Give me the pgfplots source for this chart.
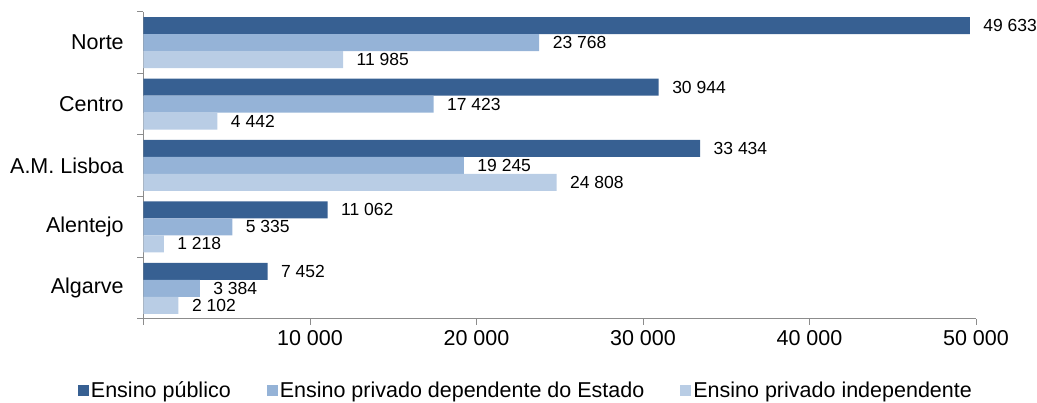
\documentclass[border=0pt]{standalone}
\usepackage{fontspec}
\setmainfont{Liberation Sans}
\usepackage{pgfplots}
\pgfplotsset{compat=1.18}
\definecolor{c1}{HTML}{376092}
\definecolor{c2}{HTML}{95B3D7}
\definecolor{c3}{HTML}{B9CDE5}
\definecolor{axgray}{HTML}{8C8C8C}

\begin{document}
\begin{tikzpicture}[x=1pt,y=1pt]
\useasboundingbox (0,0) rectangle (1037,403);
\begin{axis}[
    at={(143.5pt,84pt)}, anchor=south west,
    scale only axis, width=832.5pt, height=307pt,
    xbar, bar width=17pt,
    xmin=0, xmax=50000, ymin=-0.5, ymax=4.5,
    axis x line*=bottom, axis y line*=left,
    axis line style={axgray, line width=1pt},
    every tick/.style={axgray, line width=1pt},
    tick align=outside,
    scaled x ticks=false,
    xtick={0,10000,20000,30000,40000,50000},
    xticklabels={,10 000,20 000,30 000,40 000,50 000},
    major x tick style={/pgfplots/major tick length=6pt},
    ytick={0,1,2,3,4},
    yticklabels={Algarve,Alentejo,A.M. Lisboa,Centro,Norte},
    major y tick style={draw=none},
    minor ytick={-0.5,0.5,1.5,2.5,3.5,4.5},
    minor tick length=6pt,
    /pgf/number format/assume math mode=true,
    tick label style={font=\fontsize{21.5}{22}\selectfont, black},
    yticklabel style={xshift=-12pt},
    xticklabel style={yshift=-4pt},
    clip=false,
    point meta=explicit symbolic,
    nodes near coords,
    nodes near coords style={font=\fontsize{17.5}{18}\selectfont, black, anchor=west, xshift=10pt},
    legend columns=3,
    legend style={draw=none, at={(-0.079,-0.232)}, anchor=west,
        font=\fontsize{21.5}{22}\selectfont,
        /tikz/every even column/.append style={column sep=34pt},
        inner sep=0pt},
    legend image code/.code={\fill[#1,draw=none] (0pt,-5.5pt) rectangle (11pt,5.5pt);},
]
\addplot[fill=c1, draw=none, bar shift=17pt] coordinates {
    (49633,4) [49 633]
    (30944,3) [30 944]
    (33434,2) [33 434]
    (11062,1) [11 062]
    (7452,0) [7 452]
};
\addplot[fill=c2, draw=none, bar shift=0pt] coordinates {
    (23768,4) [23 768]
    (17423,3) [17 423]
    (19245,2) [19 245]
    (5335,1) [5 335]
    (3384,0) [3 384]
};
\addplot[fill=c3, draw=none, bar shift=-17pt] coordinates {
    (11985,4) [11 985]
    (4442,3) [4 442]
    (24808,2) [24 808]
    (1218,1) [1 218]
    (2102,0) [2 102]
};
\legend{Ensino público, Ensino privado dependente do Estado, Ensino privado independente}
\end{axis}
\end{tikzpicture}
\end{document}
